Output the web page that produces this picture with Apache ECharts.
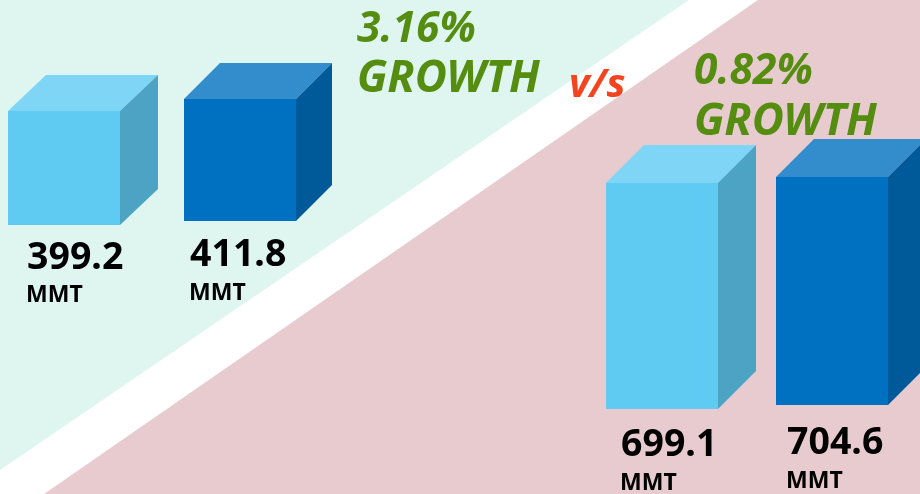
<!DOCTYPE html>
<html><head><meta charset="utf-8">
<style>html,body{margin:0;padding:0;background:#fff}#c{width:920px;height:494px}</style>
<script src="https://cdn.jsdelivr.net/npm/echarts@6/dist/echarts.min.js"></script>
</head><body><div id="c"></div>
<script>
const categories = ['Period A, group 1', 'Period B, group 1', 'Period A, group 2', 'Period B, group 2'];
const values = [399.2, 411.8, 699.1, 704.6];
const unit = 'MMT';
const growthLabels = ['3.16%', '0.82%'];
const growthWord = 'GROWTH';
const versusLabel = 'v/s';

const frontBoxes = [[8,111,112,114],[184,99,112,122],[606,183,112,226],[776,177,112,228]];
const labelAnchors = [[27,258,279],[190,255,277],[621,445,467],[787,443,465]];
const depths = [[38,-36],[36,-36],[38,-38],[38,-38]];
const palettes = [
  ['#5FCBF3','#7FD5F5','#4CA3C3'],['#0070C0','#338DCD','#005A9A'],
  ['#5FCBF3','#7FD5F5','#4CA3C3'],['#0070C0','#338DCD','#005A9A']
];
const FONT = '"Noto Sans", sans-serif';

function cube(i){
  return function(params, api){
    const top = api.coord([api.value(0), api.value(1)]);
    const bot = api.coord([api.value(0), 0]);
    const w = api.size([1,0])[0];
    const l = top[0]-w/2, r = top[0]+w/2, t = top[1], b = bot[1];
    const [dx,dy] = depths[i], c = palettes[i];
    return {type:'group',children:[
      {type:'polygon',shape:{points:[[l,t],[r,t],[r+dx,t+dy],[l+dx,t+dy]]},style:{fill:c[1]}},
      {type:'polygon',shape:{points:[[r,t],[r+dx,t+dy],[r+dx,b+dy],[r,b]]},style:{fill:c[2]}},
      {type:'rect',shape:{x:l,y:t,width:w,height:b-t},style:{fill:c[0]}}
    ]};
  };
}
const text = (x,y,t,size,fill,italic) => ({type:'text',x,y,z:10,style:{
  text:t,fill,font:`${italic?'italic ':''}bold ${size}px ${FONT}`,textAlign:'left',textVerticalAlign:'middle'}});
const GREEN='#558D10';

const chart = echarts.init(document.getElementById('c'),null,{renderer:'canvas'});
chart.setOption({
  animation:false,
  backgroundColor:'#ffffff',
  grid: frontBoxes.map(b=>({left:b[0],top:b[1],width:b[2],height:b[3]})),
  xAxis: categories.map((c,i)=>({type:'category',gridIndex:i,data:[c],show:false})),
  yAxis: values.map((v,i)=>({type:'value',gridIndex:i,min:0,max:v,show:false})),
  series: values.map((v,i)=>({
    type:'custom',xAxisIndex:i,yAxisIndex:i,z:3,clip:false,
    renderItem:cube(i),data:[[categories[i],v]],encode:{x:0,y:1}
  })),
  graphic:{elements:[
    {type:'polygon',z:-10,shape:{points:[[0,0],[689,0],[0,470]]},style:{fill:'#DFF5F0'}},
    {type:'polygon',z:-10,shape:{points:[[758,0],[920,0],[920,494],[44,494]]},style:{fill:'#E8CBCF'}},
    ...values.flatMap((v,i)=>[
      text(labelAnchors[i][0],labelAnchors[i][1],v.toFixed(1),37.5,'#000'),
      text(labelAnchors[i][0]-1,labelAnchors[i][2]+16,unit,23,'#000')
    ]),
    text(357,30,growthLabels[0],42.5,GREEN,true),
    text(357,79,growthWord,44,GREEN,true),
    text(694,72,growthLabels[1],42.5,GREEN,true),
    text(694,122,growthWord,44,GREEN,true),
    text(569,86,versusLabel,40,'#F4431F',true)
  ]}
});
</script></body></html>
